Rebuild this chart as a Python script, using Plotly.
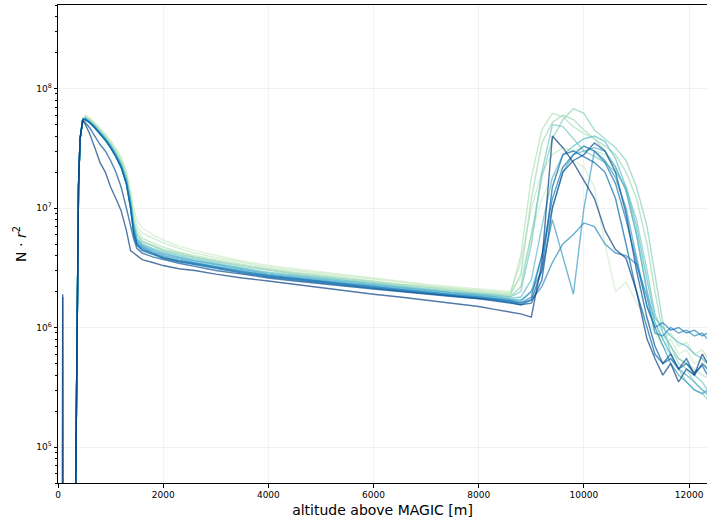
import numpy as np
import plotly.graph_objects as go
from plotly.colors import sample_colorscale

# ---------------- data (N*r^2 in units of 1e6) ----------------
altitude = [300, 330, 360, 390, 420,
            470, 520, 600, 700, 800, 900, 1000, 1100, 1200, 1300, 1380, 1440, 1500,
            1600, 1800, 2000, 2300, 2600, 3000, 3500,
            4000, 4500, 5000, 5500, 6000, 6500, 7000, 7500, 8000, 8300, 8600,
            8800, 9000, 9200, 9400, 9600, 9800, 10000, 10200, 10400, 10600, 10800,
            11000, 11200, 11350, 11500, 11650, 11800, 11950, 12100, 12250, 12350]

rise = [0.001, 0.03, 2.0, 15, 38]

s01 = [55, 60, 57, 52, 47, 42, 37, 32, 27, 20, 14, 10, 8,
       6.8, 6.0, 5.4, 4.8, 4.4, 4.0, 3.6,
       3.3, 3.1, 2.9, 2.75, 2.6, 2.45, 2.3, 2.2, 2.1, 2.05, 2.0,
       2.6, 6, 12, 18, 22, 25, 22, 15, 5, 2.0, 2.4,
       1.6, 1.2, 0.9, 0.7, 0.8, 0.6, 0.65, 0.5, 0.55, 0.45]
s02 = [55, 59, 56, 51, 46, 41, 36, 31, 26, 20, 13, 9, 7,
       6.2, 5.6, 5.1, 4.6, 4.2, 3.85, 3.5,
       3.2, 3.0, 2.85, 2.7, 2.55, 2.4, 2.25, 2.15, 2.05, 2.0, 1.95,
       3.5, 10, 20, 28, 32, 30, 33, 30, 28, 22, 14,
       6, 2.0, 1.0, 0.8, 0.9, 0.7, 0.75, 0.6, 0.65, 0.55]
s03 = [55, 58, 55, 50, 45, 40, 35, 30, 25, 19, 12, 8, 6.5,
       5.6, 5.1, 4.7, 4.3, 4.0, 3.7, 3.4,
       3.1, 2.9, 2.75, 2.6, 2.45, 2.3, 2.2, 2.1, 2.0, 1.95, 1.9,
       4, 18, 45, 62, 58, 48, 42, 38, 30, 22, 14,
       6, 2.0, 1.0, 0.7, 0.6, 0.55, 0.5, 0.45, 0.4, 0.38]
s04 = [55, 57, 54, 49, 44, 39, 34, 29, 24, 18, 12, 7.5, 6,
       5.3, 4.9, 4.5, 4.2, 3.9, 3.6, 3.3,
       3.05, 2.85, 2.7, 2.55, 2.4, 2.28, 2.15, 2.05, 1.95, 1.9, 1.85,
       2.8, 12, 35, 52, 60, 55, 45, 38, 33, 28, 20,
       12, 5, 2.0, 0.9, 0.7, 0.5, 0.45, 0.35, 0.3, 0.27]
s05 = [55, 57, 54, 49, 44, 39, 34, 29, 24, 18, 12, 7.5, 6,
       5.2, 4.8, 4.4, 4.1, 3.85, 3.55, 3.25,
       3.0, 2.8, 2.65, 2.5, 2.38, 2.25, 2.12, 2.02, 1.93, 1.88, 1.8,
       2.2, 6, 18, 38, 55, 68, 62, 45, 38, 32, 25,
       15, 7, 2.8, 1.1, 0.6, 0.45, 0.35, 0.3, 0.28, 0.25]
s06 = [55, 56, 53, 48, 43, 38, 33, 28, 23, 17, 11.5, 7, 5.6,
       5.0, 4.6, 4.3, 4.0, 3.75, 3.45, 3.15,
       2.9, 2.75, 2.6, 2.45, 2.32, 2.2, 2.08, 1.98, 1.9, 1.85, 1.8,
       2.0, 5, 20, 50, 48, 38, 30, 27, 24, 20, 15,
       8, 3, 1.3, 0.9, 0.7, 0.55, 0.5, 0.4, 0.35, 0.3]
s07 = [55, 56, 53, 48, 43, 38, 33, 28, 23, 17, 11, 7, 5.5,
       4.9, 4.5, 4.2, 3.9, 3.65, 3.4, 3.1,
       2.85, 2.7, 2.55, 2.42, 2.3, 2.18, 2.06, 1.96, 1.88, 1.82, 1.75,
       1.8, 2.5, 7, 18, 28, 33, 38, 40, 36, 26, 15,
       7, 2.5, 1.2, 1.0, 0.85, 0.75, 0.7, 0.6, 0.55, 0.5]
s08 = [55, 56, 53, 48, 43, 38, 33, 28, 23, 17, 11, 7, 5.4,
       4.8, 4.4, 4.1, 3.85, 3.6, 3.35, 3.05,
       2.8, 2.65, 2.5, 2.38, 2.26, 2.15, 2.03, 1.93, 1.85, 1.8, 1.72,
       1.7, 2.0, 4, 10, 20, 28, 30, 32, 30, 22, 14,
       6, 2.0, 1.1, 0.8, 0.6, 0.45, 0.4, 0.35, 0.3, 0.28]
s09 = [55, 55, 52, 47, 42, 37, 32, 27, 22, 16, 10.5, 6.5, 5.2,
       4.7, 4.3, 4.0, 3.75, 3.5, 3.25, 3.0,
       2.75, 2.6, 2.45, 2.33, 2.22, 2.1, 1.99, 1.9, 1.82, 1.76, 1.7,
       1.65, 2.0, 3.0, 8, 4, 1.9, 10, 30, 25, 18, 10,
       4, 1.5, 1.0, 0.7, 0.5, 0.4, 0.35, 0.3, 0.28, 0.3]
s10 = [55, 55, 52, 47, 42, 37, 32, 27, 22, 16, 10, 6.3, 5.0,
       4.6, 4.2, 3.9, 3.65, 3.45, 3.2, 2.95,
       2.72, 2.57, 2.43, 2.3, 2.2, 2.08, 1.97, 1.88, 1.8, 1.74, 1.68,
       1.6, 1.7, 2.2, 3.5, 5, 6, 7.5, 7, 5, 4.2, 4.0,
       3.4, 1.8, 0.9, 0.85, 1.0, 0.9, 0.95, 0.85, 0.9, 0.8]
s11 = [55, 55, 52, 47, 42, 37, 32, 27, 22, 16, 10, 6.2, 5.0,
       4.5, 4.15, 3.85, 3.6, 3.4, 3.15, 2.9,
       2.7, 2.55, 2.4, 2.28, 2.17, 2.05, 1.95, 1.86, 1.78, 1.72, 1.65,
       1.6, 1.8, 4, 12, 22, 28, 33, 30, 24, 16, 8,
       3.5, 1.5, 1.0, 1.1, 0.95, 1.0, 0.9, 0.95, 0.85, 0.9]
s12 = [55, 55, 52, 47, 42, 37, 32, 27, 22, 16, 10, 6.0, 4.9,
       4.4, 4.1, 3.8, 3.55, 3.35, 3.1, 2.85,
       2.65, 2.5, 2.36, 2.24, 2.13, 2.02, 1.92, 1.84, 1.76, 1.7, 1.62,
       1.55, 1.7, 3, 15, 28, 30, 27, 24, 20, 12, 5,
       2, 1.0, 0.6, 0.5, 0.55, 0.45, 0.5, 0.42, 0.48, 0.4]
s13 = [54, 52, 47, 40, 34, 30, 25, 20, 15, 10, 7, 5.5, 4.6,
       4.2, 3.9, 3.7, 3.45, 3.25, 3.0, 2.8,
       2.6, 2.45, 2.32, 2.2, 2.1, 2.0, 1.9, 1.82, 1.74, 1.68, 1.6,
       1.55, 1.6, 2.5, 10, 20, 25, 28, 35, 30, 20, 9,
       3, 1.2, 0.7, 0.5, 0.6, 0.45, 0.55, 0.4, 0.5, 0.45]
s14 = [54, 50, 42, 32, 24, 20, 15, 12, 9.5, 6.5, 4.4, 4.2, 4.0,
       3.7, 3.5, 3.3, 3.1, 3.0, 2.8, 2.6,
       2.45, 2.3, 2.15, 2.0, 1.9, 1.8, 1.7, 1.6, 1.5, 1.42, 1.35,
       1.3, 1.22, 3.5, 40, 32, 24, 17, 12, 6.5, 4.5, 3.8,
       2.0, 0.8, 0.55, 0.4, 0.5, 0.35, 0.45, 0.4, 0.6, 0.5]

# short near-ground returns of the last two profiles
ground_altitude = [80, 90, 100]
ground_s13 = [0.001, 1.8, 0.001]
ground_s14 = [0.001, 1.9, 0.001]

series = [s01, s02, s03, s04, s05, s06, s07, s08, s09, s10, s11, s12, s13, s14]
ground = {12: ground_s13, 13: ground_s14}

y_ticks = [1e5, 1e6, 1e7, 1e8]
y_ticktext = ["10<sup>5</sup>", "10<sup>6</sup>", "10<sup>7</sup>", "10<sup>8</sup>"]
x_ticks = [0, 2000, 4000, 6000, 8000, 10000, 12000]
x_ticktext = ["0", "2000", "4000", "6000", "8000", "10000", "12000"]

# ---------------- figure ----------------
colors = sample_colorscale("GnBu", list(np.linspace(0.22, 1.0, len(series))))
fig = go.Figure()
for i, s in enumerate(series):
    xs = list(altitude)
    ys = [v * 1e6 for v in rise + s]
    if i in ground:
        xs = ground_altitude + xs
        ys = [v * 1e6 for v in ground[i]] + ys
    fig.add_trace(go.Scatter(x=xs, y=ys, mode="lines",
                             line=dict(color=colors[i], width=1.4),
                             opacity=0.7, showlegend=False, hoverinfo="skip"))

minor_vals = [m * 10 ** e for e in range(4, 9) for m in range(2, 10)]

fig.update_layout(
    width=707, height=524,
    margin=dict(l=58, r=0, t=5, b=41),
    paper_bgcolor="white", plot_bgcolor="white",
    font=dict(family="DejaVu Sans", color="black", size=9),
)
fig.update_xaxes(
    range=[0, 12340], tickvals=x_ticks, ticktext=x_ticktext,
    ticks="outside", ticklen=3.5, tickcolor="black", automargin=False,
    showline=True, linecolor="black", linewidth=1, mirror=True,
    showgrid=True, gridcolor="rgba(0,0,0,0.05)", gridwidth=1, zeroline=False,
    tickfont=dict(size=9),
    title=dict(text="altitude above MAGIC [m]", font=dict(size=14), standoff=5),
)
fig.update_yaxes(
    type="log", range=[np.log10(5e4), np.log10(5e8)],
    tickvals=y_ticks, ticktext=y_ticktext, ticks="outside", ticklen=3.5, tickcolor="black",
    automargin=False,
    minor=dict(tickvals=minor_vals, ticks="outside", ticklen=2, tickcolor="black", showgrid=False),
    showline=True, linecolor="black", linewidth=1, mirror=False,
    showgrid=True, gridcolor="rgba(0,0,0,0.05)", gridwidth=1, zeroline=False,
    tickfont=dict(size=9),
    title=dict(text="N · <i>r</i><sup>2</sup>", font=dict(size=14), standoff=6),
)

fig.write_html("out.html", config={"displayModeBar": False},
               post_script="document.body.style.margin='0px';")
